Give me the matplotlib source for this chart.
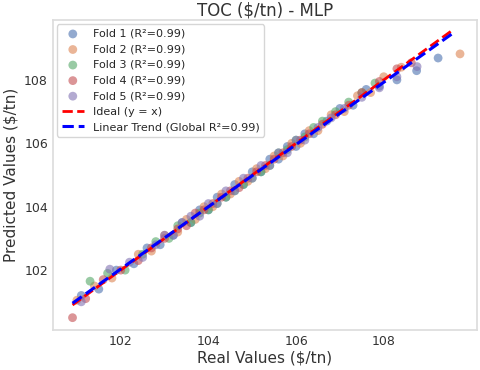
import matplotlib
matplotlib.use("Agg")
import matplotlib.pyplot as plt
import seaborn as sns
import numpy as np

sns.set_theme(style="whitegrid")
plt.rcParams['font.family'] = ['DejaVu Sans']

f1_x = [101.1, 101.5, 101.9, 102.3, 102.6, 102.9, 103.2, 103.4, 103.6, 103.8, 104.0, 104.2, 104.4, 104.6, 104.8, 105.0, 105.2, 105.4, 105.6, 105.8, 106.0, 106.2, 106.4, 106.7, 107.0, 107.3, 107.6, 107.9, 108.3, 108.75, 109.24]
f1_y = [101.2, 101.4, 102.0, 102.2, 102.7, 102.8, 103.1, 103.5, 103.5, 103.9, 103.9, 104.3, 104.3, 104.7, 104.7, 105.1, 105.1, 105.5, 105.5, 105.9, 105.9, 106.3, 106.3, 106.7, 107.1, 107.2, 107.7, 107.8, 108.0, 108.29, 108.69]
f2_x = [101.0, 101.4, 101.8, 102.4, 102.7, 103.0, 103.3, 103.5, 103.7, 103.9, 104.1, 104.3, 104.5, 104.7, 104.9, 105.1, 105.3, 105.5, 105.7, 105.9, 106.1, 106.3, 106.5, 106.8, 107.1, 107.4, 107.7, 108.0, 108.4, 109.74]
f2_y = [101.05, 101.5, 101.75, 102.5, 102.6, 103.1, 103.2, 103.6, 103.6, 104.0, 104.0, 104.4, 104.4, 104.8, 104.8, 105.2, 105.2, 105.6, 105.6, 106.0, 106.0, 106.4, 106.4, 106.9, 107.0, 107.5, 107.6, 108.1, 108.4, 108.82]
f3_x = [101.3, 101.7, 102.1, 102.5, 102.8, 103.1, 103.3, 103.6, 103.8, 104.0, 104.2, 104.4, 104.6, 104.8, 105.0, 105.2, 105.4, 105.6, 105.8, 106.0, 106.2, 106.4, 106.6, 106.9, 107.2, 107.5, 107.8]
f3_y = [101.65, 101.9, 102.0, 102.5, 102.9, 103.0, 103.4, 103.5, 103.8, 103.9, 104.1, 104.3, 104.5, 104.7, 104.9, 105.1, 105.3, 105.7, 105.8, 106.1, 106.2, 106.5, 106.7, 107.0, 107.3, 107.6, 107.9]
f4_x = [100.9, 101.2, 101.6, 102.0, 102.4, 102.7, 103.0, 103.3, 103.5, 103.7, 103.9, 104.1, 104.3, 104.5, 104.7, 104.9, 105.1, 105.3, 105.5, 105.7, 105.9, 106.1, 106.3, 106.6, 106.9, 107.2, 107.5, 107.9, 108.3, 108.63]
f4_y = [100.5, 101.1, 101.7, 102.0, 102.3, 102.7, 103.0, 103.3, 103.4, 103.8, 103.9, 104.1, 104.3, 104.5, 104.6, 104.9, 105.1, 105.3, 105.5, 105.7, 105.9, 106.1, 106.3, 106.6, 106.9, 107.2, 107.6, 107.95, 108.35, 108.54]
f5_x = [101.1, 101.75, 102.2, 102.5, 102.8, 103.0, 103.2, 103.4, 103.6, 103.8, 104.0, 104.2, 104.4, 104.6, 104.8, 105.0, 105.2, 105.4, 105.6, 105.8, 106.0, 106.2, 106.5, 106.8, 107.1, 107.5, 107.9, 108.3, 108.76]
f5_y = [101.0, 102.03, 102.25, 102.4, 102.8, 103.1, 103.1, 103.5, 103.7, 103.7, 104.1, 104.1, 104.5, 104.5, 104.9, 104.9, 105.3, 105.3, 105.7, 105.7, 106.1, 106.1, 106.5, 106.8, 107.1, 107.45, 107.75, 108.1, 108.42]

folds_x = [f1_x, f2_x, f3_x, f4_x, f5_x]
folds_y = [f1_y, f2_y, f3_y, f4_y, f5_y]
fold_r2 = [0.99, 0.99, 0.99, 0.99, 0.99]
global_r2 = 0.99
x_ticks = [102, 104, 106, 108]
y_ticks = [102, 104, 106, 108]

colors = sns.color_palette("deep")

fig = plt.figure(figsize=(4.8, 3.7), dpi=100)
ax = fig.add_axes([0.110, 0.108, 0.884, 0.838])

for i, (xs, ys) in enumerate(zip(folds_x, folds_y)):
    ax.scatter(xs, ys, s=40, alpha=0.6, color=colors[i], edgecolors='none',
               label=f"Fold {i+1} (R²={fold_r2[i]:.2f})")

all_x = np.concatenate([np.array(v) for v in folds_x])
all_y = np.concatenate([np.array(v) for v in folds_y])
lo = all_x.min()
hi = 109.6
ax.plot([lo, hi], [lo, hi], '--', color='red', lw=2, label='Ideal (y = x)')
m, b = np.polyfit(all_x, all_y, 1)
xx = np.array([lo, hi])
ax.plot(xx, m * xx + b, '--', color='blue', lw=2.2, label=f'Linear Trend (Global R²={global_r2:.2f})')

ax.set_xlim(100.45, 110.13)
ax.set_ylim(100.11, 109.89)
ax.set_xticks(x_ticks)
ax.set_yticks(y_ticks)
ax.grid(False)
for s in ax.spines.values():
    s.set_color('#dddddd')
ax.tick_params(labelsize=9, colors='#333333', length=0)
ax.set_xlabel('Real Values ($/tn)', fontsize=11, color='#333333', labelpad=2)
ax.set_ylabel('Predicted Values ($/tn)', fontsize=11, color='#333333')
ax.set_title('TOC ($/tn) - MLP', fontsize=12, color='#333333', pad=3)
ax.legend(loc='upper left', fontsize=8, frameon=True, labelspacing=0.5,
          borderaxespad=0.4)

fig.savefig('out.png', dpi=100)
